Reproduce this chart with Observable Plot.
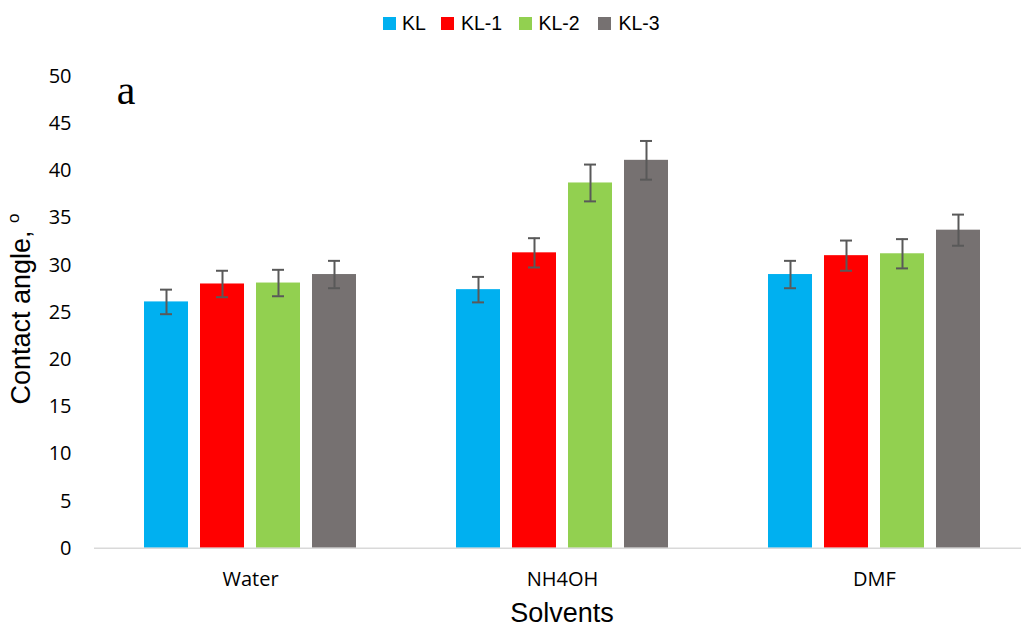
<!DOCTYPE html>
<html>
<head>
<meta charset="utf-8">
<script src="https://cdn.jsdelivr.net/npm/d3@7"></script>
<script src="https://cdn.jsdelivr.net/npm/@observablehq/plot@0.6"></script>
<style>
  html, body { margin: 0; padding: 0; background: #fff; overflow: hidden; }
  #legend { position: relative; width: 1021px; height: 44px; font-family: "Liberation Sans", Arial, sans-serif; font-size: 19.5px; color: #000; }
  #legend .sw { position: absolute; top: 17px; width: 13px; height: 13px; }
  #legend .lb { position: absolute; top: 11px; line-height: 24px; white-space: nowrap; }
  #chart svg { display: block; }
</style>
</head>
<body>
<div id="legend"></div>
<div id="chart"></div>
<script>
// ---- data ----
const categories = ["Water", "NH4OH", "DMF"];
const series = ["KL", "KL-1", "KL-2", "KL-3"];
const seriesColors = ["#00B0F0", "#FF0000", "#92D050", "#767171"];

const valuesKL  = [26.1, 27.4, 29.0];
const valuesKL1 = [28.0, 31.3, 31.0];
const valuesKL2 = [28.1, 38.7, 31.2];
const valuesKL3 = [29.0, 41.1, 33.7];

const errorsKL  = [1.3, 1.35, 1.45];
const errorsKL1 = [1.4, 1.55, 1.6];
const errorsKL2 = [1.4, 1.95, 1.55];
const errorsKL3 = [1.45, 2.05, 1.65];

const yTicks = [0, 5, 10, 15, 20, 25, 30, 35, 40, 45, 50];

// ---- table ----
const allValues = [valuesKL, valuesKL1, valuesKL2, valuesKL3];
const allErrors = [errorsKL, errorsKL1, errorsKL2, errorsKL3];
const data = [];
categories.forEach((cat, ci) => {
  series.forEach((s, si) => {
    data.push({cat, series: s, value: allValues[si][ci], err: allErrors[si][ci]});
  });
});

// ---- legend (HTML, above the SVG) ----
const legendSw = [382.5, 441.3, 519, 598];
const legendLb = [402, 461, 538.5, 618.5];
const legend = document.getElementById("legend");
series.forEach((s, i) => {
  const sw = document.createElement("div");
  sw.className = "sw";
  sw.style.left = legendSw[i] + "px";
  sw.style.background = seriesColors[i];
  legend.appendChild(sw);
  const lb = document.createElement("div");
  lb.className = "lb";
  lb.style.left = legendLb[i] + "px";
  lb.textContent = s;
  legend.appendChild(lb);
});

// ---- chart ----
const errColor = "#595959";
const chart = Plot.plot({
  width: 1021,
  height: 586,
  marginLeft: 94,
  marginRight: 0,
  marginTop: 31.8,
  marginBottom: 82.2,
  style: {fontFamily: "'Open Sans', sans-serif", fontSize: "20px", color: "#000", background: "white"},
  fx: {domain: categories, range: [94, 1030], padding: 0, label: null, tickSize: 0, tickPadding: 23},
  x: {domain: series, paddingInner: 0.213, paddingOuter: 0.877, axis: null},
  y: {domain: [0, 50], ticks: yTicks, tickSize: 0, tickPadding: 23, label: null, tickFormat: d => String(d)},
  color: {domain: series, range: seriesColors},
  marks: [
    Plot.barY(data, {fx: "cat", x: "series", y: "value", fill: "series"}),
    Plot.ruleY([0], {stroke: "#D9D9D9", strokeWidth: 1.5}),
    Plot.ruleX(data, {fx: "cat", x: "series", y1: d => d.value - d.err, y2: d => d.value + d.err, stroke: errColor, strokeWidth: 2}),
    Plot.tickY(data, {fx: "cat", x: "series", y: d => d.value - d.err, stroke: errColor, strokeWidth: 2, insetLeft: 16, insetRight: 16}),
    Plot.tickY(data, {fx: "cat", x: "series", y: d => d.value + d.err, stroke: errColor, strokeWidth: 2, insetLeft: 16, insetRight: 16})
  ]
});
document.getElementById("chart").appendChild(chart);

// ---- titles ----
const svg = d3.select(chart);
const yTitle = svg.append("text")
  .attr("transform", "translate(30,265) rotate(-90)")
  .attr("text-anchor", "middle")
  .attr("font-family", "'Liberation Sans', Arial, sans-serif")
  .attr("font-size", 27)
  .attr("fill", "#000");
yTitle.append("tspan").text("Contact angle, ");
yTitle.append("tspan").attr("font-size", 17).attr("dy", -11).text("o");

svg.append("text")
  .attr("x", 562)
  .attr("y", 578)
  .attr("text-anchor", "middle")
  .attr("font-family", "'Liberation Sans', Arial, sans-serif")
  .attr("font-size", 27)
  .attr("fill", "#000")
  .text("Solvents");

svg.append("text")
  .attr("x", 126)
  .attr("y", 60)
  .attr("font-family", "'Liberation Serif', 'Times New Roman', serif")
  .attr("font-size", 42)
  .attr("fill", "#000")
  .text("a");
</script>
</body>
</html>
